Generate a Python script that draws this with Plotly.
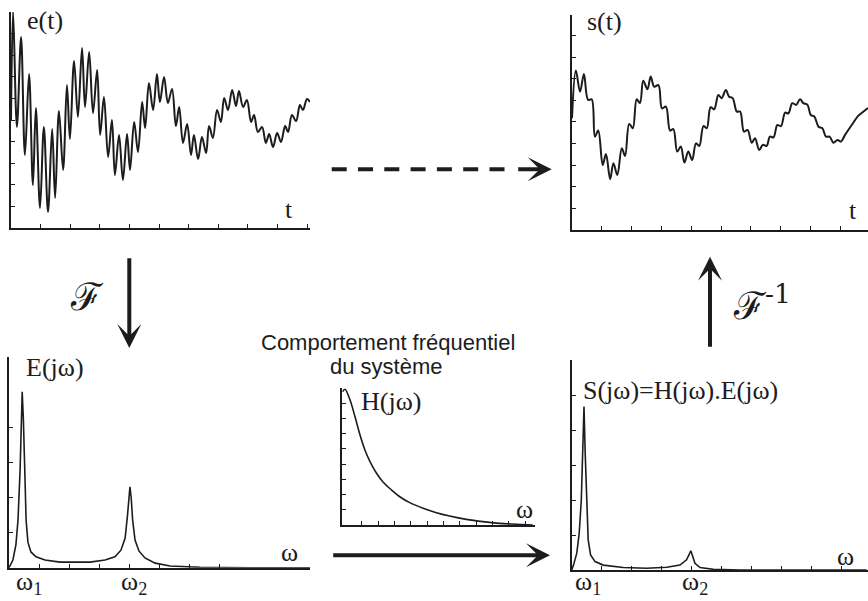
import plotly.graph_objects as go

W, H = 868, 601

# ---------------- data ----------------
e_t = [0.0, 0.07, 0.20, 0.34, 0.47, 0.61, 0.74, 0.84, 0.98, 1.11, 1.25, 1.39, 1.49, 1.62, 1.76, 1.89,
       1.99, 2.13, 2.26, 2.40, 2.50, 2.64, 2.77, 2.91, 3.01, 3.14, 3.28, 3.41, 3.51, 3.65, 3.78, 3.92,
       4.02, 4.16, 4.29, 4.43, 4.53, 4.66, 4.80, 4.93, 5.03, 5.17, 5.30, 5.44, 5.57, 5.68, 5.81, 5.95,
       6.08, 6.18, 6.32, 6.45, 6.59, 6.69, 6.82, 6.96, 7.09, 7.20, 7.33, 7.47, 7.60, 7.70, 7.84, 7.97,
       8.11, 8.21, 8.34, 8.48, 8.61, 8.72, 8.85, 8.99, 9.12, 9.26, 9.36, 9.49, 9.63, 9.76, 9.86, 10.00, 10.10]
e_v = [5.0, 10.0, 4.68, 8.84, 3.38, 7.13, 1.99, 5.56, 0.93, 4.68, 0.74, 4.58, 1.39, 5.42, 2.69, 6.62,
       4.12, 7.73, 5.14, 8.33, 5.60, 8.15, 5.32, 7.31, 4.31, 6.06, 3.29, 5.00, 2.45, 4.31, 2.22, 4.35,
       2.69, 4.91, 3.52, 5.83, 4.63, 6.71, 5.46, 7.13, 5.83, 6.99, 5.79, 6.44, 4.72, 5.60, 3.94, 4.81,
       3.38, 4.31, 3.19, 4.21, 3.47, 4.72, 4.17, 5.46, 4.91, 6.02, 5.46, 6.39, 5.65, 6.34, 5.60, 5.93,
       4.91, 5.23, 4.44, 4.68, 3.94, 4.35, 3.75, 4.40, 3.98, 4.72, 4.44, 5.23, 4.95, 5.69, 5.46, 5.97, 5.83]

s_t = [0.0, 0.13, 0.27, 0.40, 0.54, 0.66, 0.77, 0.88, 1.03, 1.14, 1.28, 1.39, 1.52, 1.67, 1.78, 1.92,
       2.04, 2.17, 2.28, 2.39, 2.53, 2.64, 2.76, 2.90, 3.02, 3.15, 3.29, 3.40, 3.53, 3.65, 3.77, 3.90,
       4.03, 4.16, 4.27, 4.41, 4.52, 4.65, 4.77, 4.91, 5.02, 5.16, 5.27, 5.39, 5.53, 5.64, 5.77, 5.89,
       6.03, 6.14, 6.28, 6.40, 6.53, 6.64, 6.76, 6.89, 7.01, 7.15, 7.26, 7.39, 7.52, 7.65, 7.76, 7.90,
       8.01, 8.13, 8.27, 8.40, 8.52, 8.64, 8.77, 8.91, 9.02, 9.16, 9.43, 9.60, 9.76, 9.93]
s_v = [5.17, 7.38, 6.40, 7.22, 6.02, 6.05, 4.32, 4.60, 3.01, 3.52, 2.35, 3.09, 2.55, 3.78, 3.43, 4.91,
       4.71, 6.05, 5.88, 6.91, 6.51, 7.10, 6.63, 6.71, 5.63, 5.71, 4.60, 4.67, 3.63, 3.86, 3.12, 3.63,
       3.24, 4.01, 3.89, 4.81, 4.71, 5.68, 5.59, 6.25, 6.10, 6.48, 6.17, 6.10, 5.48, 5.48, 4.55, 4.63,
       4.04, 4.25, 3.70, 3.94, 3.89, 4.32, 4.29, 4.86, 4.81, 5.43, 5.40, 5.87, 5.79, 6.05, 5.87, 5.79,
       5.32, 5.25, 4.78, 4.71, 4.32, 4.32, 4.04, 4.17, 4.09, 4.40, 4.95, 5.28, 5.46, 5.65]

E_w = [0.0, 0.13, 0.23, 0.30, 0.37, 0.41, 0.44, 0.48, 0.52, 0.57, 0.63, 0.73, 0.90, 1.20, 1.70, 2.20,
       2.70, 3.20, 3.53, 3.73, 3.87, 3.95, 4.00, 4.03, 4.07, 4.12, 4.20, 4.33, 4.53, 4.87, 5.37, 6.37,
       8.03, 10.03]
E_mag = [0.0, 0.22, 0.65, 1.36, 2.79, 4.22, 5.03, 4.22, 2.51, 1.36, 0.73, 0.45, 0.31, 0.22, 0.16, 0.15,
         0.16, 0.22, 0.31, 0.50, 0.85, 1.51, 2.08, 2.31, 2.02, 1.36, 0.79, 0.48, 0.28, 0.13, 0.05, 0.01,
         0.0, 0.0]

H_w = [0.06, 0.20, 0.51, 0.81, 1.12, 1.42, 1.73, 2.13, 2.54, 3.05, 3.55, 4.16, 4.98, 5.79, 6.60, 7.62,
       8.63, 9.65, 10.67, 11.68]
H_mag = [8.77, 8.93, 8.22, 7.13, 5.92, 4.93, 4.17, 3.40, 2.81, 2.30, 1.86, 1.47, 1.10, 0.81, 0.59, 0.37,
         0.22, 0.11, 0.05, 0.0]

S_w = [0.0, 0.06, 0.17, 0.25, 0.32, 0.37, 0.41, 0.45, 0.50, 0.55, 0.63, 0.78, 1.05, 1.72, 2.50, 3.17,
       3.61, 3.83, 3.91, 3.97, 4.02, 4.11, 4.28, 4.72, 5.61, 9.83]
S_mag = [0.0, 0.14, 0.48, 1.05, 2.00, 3.33, 4.67, 3.33, 1.81, 0.86, 0.43, 0.24, 0.14, 0.07, 0.05, 0.08,
         0.14, 0.29, 0.43, 0.55, 0.43, 0.19, 0.07, 0.02, 0.0, 0.0]

# ---------------- layout helpers ----------------
def PX(x):
    return x / W


def PY(y):
    return 1 - y / H


INK = "#1c1c1c"
SERIF = "Liberation Serif, DejaVu Serif, serif"
SANS = "Liberation Sans, Arial, sans-serif"

fig = go.Figure()

fig.add_trace(go.Scatter(x=e_t, y=e_v, mode="lines", line=dict(color=INK, width=2, shape="spline", smoothing=1),
                         xaxis="x", yaxis="y", hoverinfo="skip"))
fig.add_trace(go.Scatter(x=s_t, y=s_v, mode="lines", line=dict(color=INK, width=2, shape="spline", smoothing=1),
                         xaxis="x2", yaxis="y2", hoverinfo="skip"))
fig.add_trace(go.Scatter(x=E_w, y=E_mag, mode="lines", line=dict(color=INK, width=1.6),
                         xaxis="x3", yaxis="y3", hoverinfo="skip"))
fig.add_trace(go.Scatter(x=H_w, y=H_mag, mode="lines", line=dict(color=INK, width=1.6, shape="spline"),
                         xaxis="x4", yaxis="y4", hoverinfo="skip"))
fig.add_trace(go.Scatter(x=S_w, y=S_mag, mode="lines", line=dict(color=INK, width=1.6),
                         xaxis="x5", yaxis="y5", hoverinfo="skip"))


def axis(domain, rng, ticks, anchor):
    return dict(domain=domain, range=rng, tickvals=ticks, ticks="inside", ticklen=4, tickwidth=1.2,
                tickcolor=INK, showticklabels=False, showgrid=False, zeroline=False, showline=True,
                linecolor=INK, linewidth=2, anchor=anchor, fixedrange=True)


fig.update_layout(
    xaxis=axis([PX(11), PX(310)], [0, 10.10], list(range(1, 11)), "y"),
    yaxis=axis([PY(228), PY(12)], [0, 10.0], list(range(1, 10)), "x"),
    xaxis2=axis([PX(572), 1.0], [0, 9.93], list(range(1, 10)), "y2"),
    yaxis2=axis([PY(230), PY(15)], [0, 9.95], list(range(1, 10)), "x2"),
    xaxis3=axis([PX(9), PX(310)], [0, 10.03], list(range(1, 8)), "y3"),
    yaxis3=axis([PY(567.7), PY(356.7)], [0, 6.03], list(range(1, 5)), "x3"),
    xaxis4=axis([PX(341.7), PX(535)], [0, 11.82], [1.22 + k for k in range(11)], "y4"),
    yaxis4=axis([PY(525), PY(388.3)], [0, 8.99], list(range(1, 9)), "x4"),
    xaxis5=axis([PX(571.7), 1.0], [0, 9.88], list(range(1, 10)), "y5"),
    yaxis5=axis([PY(570), PY(360)], [0, 6.0], list(range(1, 6)), "x5"),
)

ann = []


def label(text, x, y, size=26, family=SERIF, yanchor="middle"):
    ann.append(dict(text=text, x=PX(x), y=PY(y), xref="paper", yref="paper", showarrow=False,
                    xanchor="center", yanchor=yanchor, font=dict(family=family, size=size, color=INK)))


label("e(t)", 45, 21)
label("t", 289, 209)
label("s(t)", 604, 22)
label("t", 853, 210)
label("ℱ", 87, 297, size=38, family="DejaVu Serif, serif")
label("ℱ<sup>-1</sup>", 762, 303, size=38, family="DejaVu Serif, serif")
label("E(jω)", 54.5, 367)
label("ω", 289, 552)
label("ω<sub>1</sub>", 29, 601, yanchor="bottom")
label("ω<sub>2</sub>", 134, 601, yanchor="bottom")
label("Comportement fréquentiel", 387.5, 342, size=22, family=SANS)
label("du système", 386.7, 366, size=22, family=SANS)
label("H(jω)", 391, 401)
label("ω", 524, 509)
label("S(jω)=H(jω).E(jω)", 680, 390)
label("ω", 845, 556)
label("ω<sub>1</sub>", 588, 601, yanchor="bottom")
label("ω<sub>2</sub>", 695, 601, yanchor="bottom")


def arrow(x_tip, y_tip, dx, dy):
    ann.append(dict(text="", x=PX(x_tip), y=PY(y_tip), xref="paper", yref="paper", showarrow=True,
                    ax=dx, ay=dy, arrowhead=3, arrowsize=1.0, arrowwidth=4, arrowcolor=INK, standoff=0))


arrow(129.3, 348, 0, -91.3)      # F down
arrow(710, 256.7, 0, 91.6)       # F^-1 up
arrow(550, 555.3, -218.3, 0)     # filtering
arrow(551.7, 169.3, -35, 0)      # dashed head

fig.update_layout(
    annotations=ann,
    shapes=[dict(type="line", xref="paper", yref="paper", x0=PX(331.7), x1=PX(505), y0=PY(169.3), y1=PY(169.3),
                 line=dict(color=INK, width=4, dash="15px,11.3px"))],
    width=W, height=H, margin=dict(l=0, r=0, t=0, b=0),
    paper_bgcolor="white", plot_bgcolor="white", showlegend=False,
)

fig.write_html("out.html", config={"displayModeBar": False})
